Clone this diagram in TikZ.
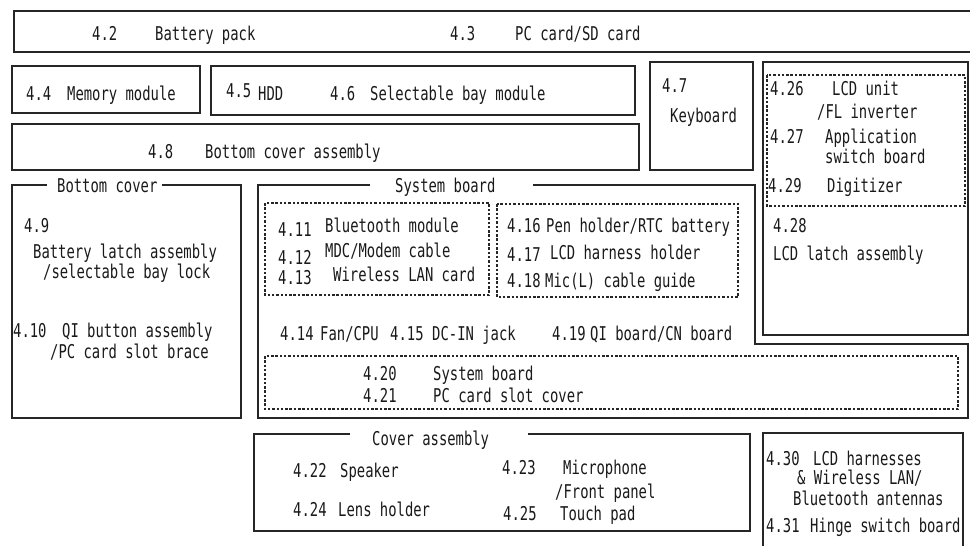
\documentclass[tikz,border=0pt]{standalone}
\usepackage{fontspec}
\setmonofont[FakeStretch=0.73]{DejaVu Sans Mono}
\begin{document}
\begin{tikzpicture}[x=1pt,y=-1pt,
  box/.style={draw=black!85, line width=1.3pt},
  dotbox/.style={draw=black!85, line width=1.3pt, dash pattern=on 2.5pt off 1.8pt},
  lbl/.style={anchor=base west, inner sep=0pt, text=black!90, font=\ttfamily\fontsize{19}{21}\selectfont}]
\useasboundingbox (0,0) rectangle (970,546);
% boxes
\draw[box] (980,11) -- (14,11) -- (14,52) -- (980,52);
\draw[box] (12,66) rectangle (200,113);
\draw[box] (211,66) rectangle (635,115);
\draw[box] (12,124) rectangle (639,170);
\draw[box] (650,62) rectangle (753,170);
\draw[box] (763,62) rectangle (968,335);
\draw[dotbox] (767,75) rectangle (965,206);
% bottom cover
\draw[box] (47,185) -- (12,185) -- (12,418) -- (241,418) -- (241,185) -- (162,185);
% system board
\draw[box] (370,185) -- (258,185) -- (258,418) -- (968,418) -- (968,344) -- (755,344) -- (755,185) -- (533,185);
\draw[dotbox] (265,203) rectangle (489,295);
\draw[dotbox] (497,204) rectangle (738,297);
\draw[dotbox] (265,356) rectangle (958,409);
% cover assembly
\draw[box] (350,434) -- (254,434) -- (254,531) -- (750,531) -- (750,434) -- (528,434);
% right bottom
\draw[box] (763,550) -- (763,433) -- (963,433) -- (963,550);

% texts
\node[lbl] (t42) at (92,40) {4.2};
\node[lbl] (t42b) at (155,40) {Battery pack};
\node[lbl] (t43) at (450,40) {4.3};
\node[lbl] (t43b) at (515,40) {PC card/SD card};
\node[lbl] (t44) at (26,100) {4.4};
\node[lbl] (t44b) at (67,100) {Memory module};
\node[lbl] (t45) at (226,97) {4.5};
\node[lbl] (t45b) at (258,100) {HDD};
\node[lbl] (t46) at (330,100) {4.6};
\node[lbl] (t46b) at (370,100) {Selectable bay module};
\node[lbl] (t47) at (662,92) {4.7};
\node[lbl] (t47b) at (670,122) {Keyboard};
\node[lbl] (t426) at (770,95) {4.26};
\node[lbl] (t426b) at (832,95) {LCD unit};
\node[lbl] (t426c) at (817,118) {/FL inverter};
\node[lbl] (t427) at (770,143) {4.27};
\node[lbl] (t427b) at (825,143) {Application};
\node[lbl] (t427c) at (825,163) {switch board};
\node[lbl] (t429) at (768,192) {4.29};
\node[lbl] (t429b) at (827,192) {Digitizer};
\node[lbl] (t428) at (773,232) {4.28};
\node[lbl] (t428b) at (773,260) {LCD latch assembly};
\node[lbl] (t48) at (148,158) {4.8};
\node[lbl] (t48b) at (205,158) {Bottom cover assembly};
% bottom cover
\node[lbl] (bct) at (57,192) {Bottom cover};
\node[lbl] (t49) at (24,232) {4.9};
\node[lbl] (t49b) at (33,258) {Battery latch assembly};
\node[lbl] (t49c) at (43,278) {/selectable bay lock};
\node[lbl] (t410) at (13,337) {4.10};
\node[lbl] (t410b) at (62,337) {QI button assembly};
\node[lbl] (t410c) at (50,358) {/PC card slot brace};
% system board
\node[lbl] (sbt) at (395,192) {System board};
\node[lbl] (t411) at (278,236) {4.11};
\node[lbl] (t411b) at (325,232) {Bluetooth module};
\node[lbl] (t412) at (278,264) {4.12};
\node[lbl] (t412b) at (325,257) {MDC/Modem cable};
\node[lbl] (t413) at (278,284) {4.13};
\node[lbl] (t413b) at (333,281) {Wireless LAN card};
\node[lbl] (t416) at (507,232) {4.16};
\node[lbl] (t416b) at (546,232) {Pen holder/RTC battery};
\node[lbl] (t417) at (507,261) {4.17};
\node[lbl] (t417b) at (550,259) {LCD harness holder};
\node[lbl] (t418) at (507,287) {4.18};
\node[lbl] (t418b) at (545,287) {Mic(L) cable guide};
\node[lbl] (t414) at (280,340) {4.14};
\node[lbl] (t414b) at (320,340) {Fan/CPU};
\node[lbl] (t415) at (390,340) {4.15};
\node[lbl] (t415b) at (432,340) {DC-IN jack};
\node[lbl] (t419) at (552,340) {4.19};
\node[lbl] (t419b) at (590,340) {QI board/CN board};
\node[lbl] (t420) at (363,380) {4.20};
\node[lbl] (t420b) at (433,380) {System board};
\node[lbl] (t421) at (363,402) {4.21};
\node[lbl] (t421b) at (433,402) {PC card slot cover};
% cover assembly
\node[lbl] (cat) at (372,445) {Cover assembly};
\node[lbl] (t422) at (293,477) {4.22};
\node[lbl] (t422b) at (340,477) {Speaker};
\node[lbl] (t424) at (293,516) {4.24};
\node[lbl] (t424b) at (338,516) {Lens holder};
\node[lbl] (t423) at (502,474) {4.23};
\node[lbl] (t423b) at (563,474) {Microphone};
\node[lbl] (t423c) at (555,498) {/Front panel};
\node[lbl] (t425) at (503,520) {4.25};
\node[lbl] (t425b) at (560,520) {Touch pad};
% right bottom
\node[lbl] (t430) at (766,465) {4.30};
\node[lbl] (t430b) at (813,465) {LCD harnesses};
\node[lbl] (t430c) at (797,484) {\&{} Wireless LAN/};
\node[lbl] (t430d) at (793,505) {Bluetooth antennas};
\node[lbl] (t431) at (766,532) {4.31};
\node[lbl] (t431b) at (810,532) {Hinge switch board};
\end{tikzpicture}
\end{document}
